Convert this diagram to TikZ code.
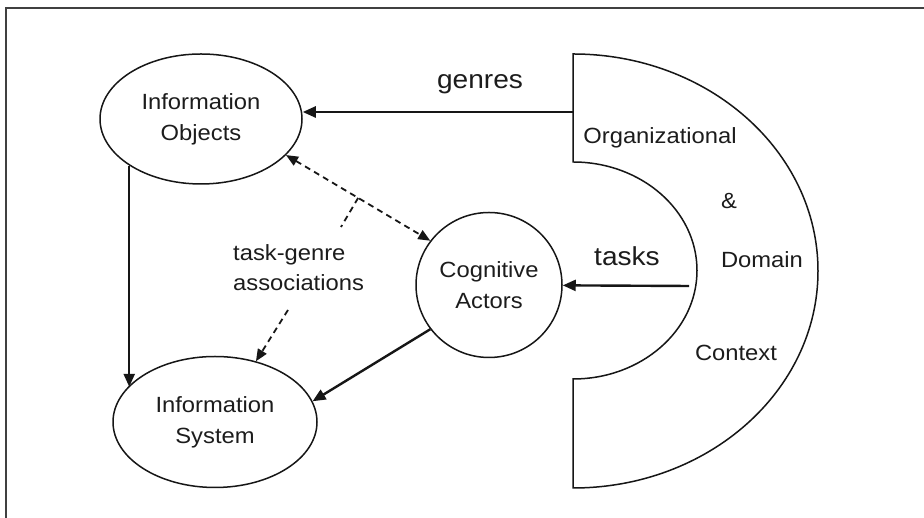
\documentclass[tikz,border=0pt]{standalone}
\usepackage{fontspec}
\setmainfont{Liberation Sans}[FakeStretch=1.08]
\usetikzlibrary{shapes.geometric,arrows.meta,calc}
\definecolor{ink}{HTML}{161616}
\definecolor{txt}{HTML}{1C1C1C}
\begin{document}
\begin{tikzpicture}[x=1pt,y=1pt,
  bubble/.style={ellipse,draw=ink,line width=1.5pt,inner sep=0pt,align=center,
    text=txt,font=\fontsize{22}{31}\selectfont},
  arr/.style={draw=ink,line width=2.4pt,-{Triangle[length=13pt,width=11pt]}},
  darr/.style={draw=ink,line width=1.8pt,dash pattern=on 6pt off 4.5pt},
  lab/.style={text=txt,font=\fontsize{22}{30}\selectfont,inner sep=0pt},
  biglab/.style={text=txt,font=\fontsize{26}{30}\selectfont,inner sep=0pt}]
\useasboundingbox (0,0) rectangle (924,518);
\fill[white] (0,0) rectangle (924,518);
% frame (top and left edges only)
\draw[line width=1.8pt,color=black!75] (6,0) -- (6,510) -- (924,510);

% nodes
\node[bubble,minimum width=202pt,minimum height=130pt] (IO) at (201,399) {Information\\Objects};
\node[bubble,minimum width=204pt,minimum height=131pt] (IS) at (215,96) {Information\\System};
\node[bubble,minimum width=146pt,minimum height=145pt] (CA) at (489,233) {Cognitive\\Actors};

% context D shape
\draw[ink,line width=1.5pt] (573,464) -- (573,356)
  arc[start angle=90,end angle=-90,x radius=124,y radius=108.5]
  -- (573,30)
  arc[start angle=-90,end angle=90,x radius=245,y radius=217] -- cycle;
\node[lab] (org) at (660,380) {Organizational};
\node[lab] (amp) at (729,317) {\&};
\node[lab] (dom) at (762,258) {Domain};
\node[lab] (ctx) at (736,165) {Context};

% genres / tasks
\coordinate (g0) at (573,406);
\draw[arr] (g0) -- (IO.east |- g0);
\node[biglab] (genres) at (480,434) {genres};
\coordinate (t0) at (689,232);
\draw[arr] (t0) -- (CA);
\node[biglab] (tasks) at (627,262) {tasks};

% solid arrows
\draw[arr] (IO.213) -- (IO.213 |- IS.158);
\draw[arr] (CA.217) -- (IS.12);

% dashed associations
\draw[darr,{Triangle[length=12pt,width=10pt]}-{Triangle[length=12pt,width=10pt]}] (IO.-23) -- (CA.143)
  coordinate[pos=0.5] (j);
\coordinate (b1) at (341,291);
\draw[darr] (j) -- (b1);
\coordinate (b2) at (288,208);
\draw[darr,-{Triangle[length=12pt,width=10pt]}] (b2) -- (IS.56);
\node[lab,align=left,anchor=west] (tg) at (233,250) {task-genre\\associations};
\end{tikzpicture}
\end{document}
